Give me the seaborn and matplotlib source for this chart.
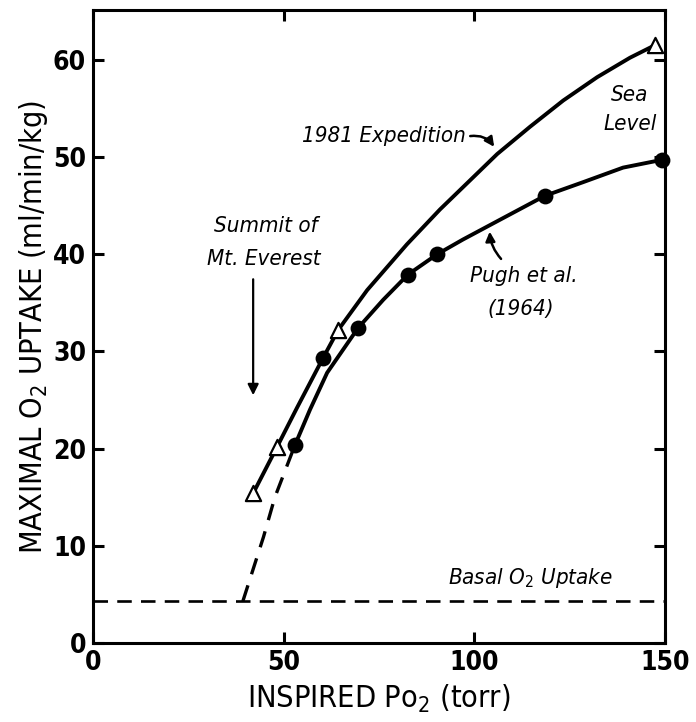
import matplotlib
matplotlib.use("Agg")
import matplotlib.pyplot as plt
import seaborn as sns
from matplotlib import font_manager as fm

sns.set_theme(style="ticks")
installed = {f.name for f in fm.fontManager.ttflist}
FAMILY = next((n for n in ["Liberation Sans Narrow", "DejaVu Sans"] if n in installed), "DejaVu Sans")
plt.rcParams["font.family"] = [FAMILY, "DejaVu Sans"]
plt.rcParams.update({
    "font.stretch": "condensed",
    "text.color": "black",
    "axes.labelcolor": "black",
    "xtick.color": "black",
    "ytick.color": "black",
    "mathtext.fontset": "custom",
    "mathtext.rm": FAMILY,
    "mathtext.it": FAMILY + ":italic",
    "mathtext.bf": FAMILY + ":bold",
})

# Measured points
expedition_po2 = [42.0, 48.3, 64.3, 147.4]
expedition_vo2 = [15.4, 20.2, 32.2, 61.5]
pugh_po2 = [53.0, 60.3, 69.5, 82.6, 90.3, 118.5, 149.2]
pugh_vo2 = [20.4, 29.3, 32.4, 37.9, 40.0, 46.0, 49.7]

# Hand-fitted curves through the data
expedition_curve_po2 = [42.0, 48.3, 53.5, 60.3, 64.3, 71.9, 82.3, 91.0, 98.9, 106.0,
                        114.6, 123.3, 132.2, 140.8, 147.4]
expedition_curve_vo2 = [15.4, 20.2, 24.2, 29.3, 32.2, 36.3, 41.0, 44.6, 47.6, 50.3,
                        53.1, 55.8, 58.2, 60.2, 61.5]
pugh_curve_po2 = [53.0, 56.9, 61.4, 69.5, 76.1, 82.6, 90.3, 97.0, 107.5, 118.5,
                  128.5, 139.0, 149.2]
pugh_curve_vo2 = [20.4, 24.0, 27.8, 32.4, 35.3, 37.9, 40.0, 41.5, 43.7, 46.0,
                  47.4, 48.9, 49.7]
extrap_po2 = [39.3, 44.7, 47.7, 53.0]
extrap_vo2 = [4.3, 10.9, 15.0, 20.4]
basal_po2 = [0, 150]
basal_vo2 = [4.3, 4.3]

x_ticks = [0, 50, 100, 150]
y_ticks = [0, 10, 20, 30, 40, 50, 60]

fig = plt.figure(figsize=(6.96, 7.22), dpi=100)
ax = fig.add_axes([0.1336, 0.1094, 0.8219, 0.8766])

LW = 2.8
line_kw = dict(sort=False, estimator=None, color="black", ax=ax)
sns.lineplot(x=expedition_curve_po2, y=expedition_curve_vo2, lw=LW, **line_kw)
sns.lineplot(x=pugh_curve_po2, y=pugh_curve_vo2, lw=LW, **line_kw)
sns.lineplot(x=extrap_po2, y=extrap_vo2, lw=2.4, **line_kw)
ax.lines[-1].set_dashes([5, 3.5])
sns.lineplot(x=basal_po2, y=basal_vo2, lw=1.9, **line_kw)
ax.lines[-1].set_dashes([5.5, 3.5])
for ln in ax.lines[:2]:
    ln.set_solid_joinstyle("round")
    ln.set_solid_capstyle("round")

sns.scatterplot(x=pugh_po2, y=pugh_vo2, marker="o", s=130, color="black",
                edgecolor="black", linewidth=0, ax=ax, zorder=5, clip_on=False)
sns.scatterplot(x=expedition_po2, y=expedition_vo2, marker="^", s=120, color="white",
                edgecolor="black", linewidth=1.6, ax=ax, zorder=5, clip_on=False)

ax.set_xlim(0, 150)
ax.set_ylim(0, 65.1)
ax.set_xticks(x_ticks)
ax.set_yticks(y_ticks)
ax.tick_params(direction="in", length=8, width=2.2, top=True, right=True,
               labelsize=19, pad=5)
for lab in ax.get_xticklabels() + ax.get_yticklabels():
    lab.set_fontweight("bold")
for s in ax.spines.values():
    s.set_linewidth(2.2)
    s.set_color("black")

ax.set_xlabel("INSPIRED Po$_2$ (torr)", fontsize=22, labelpad=5)
ax.set_ylabel("MAXIMAL O$_2$ UPTAKE (ml/min/kg)", fontsize=22, labelpad=2)

it = dict(fontsize=16, style="italic", ha="center", va="center", color="black")
ax.text(76.3, 52.2, "1981 Expedition", **it)
ax.text(45.4, 42.9, "Summit of", **it)
ax.text(44.8, 39.5, "Mt. Everest", **it)
ax.text(113.0, 37.8, "Pugh et al.", **it)
ax.text(112.2, 34.4, "(1964)", **it)
ax.text(140.8, 56.4, "Sea", **it)
ax.text(140.8, 53.4, "Level", **it)
ax.text(114.6, 6.7, "Basal O$_\\mathit{2}$ Uptake", **it)

ax.annotate("", xy=(105.6, 50.8), xytext=(98.2, 52.1),
            arrowprops=dict(arrowstyle="-|>", color="black", lw=1.8,
                            connectionstyle="arc3,rad=-0.35", mutation_scale=14))
ax.annotate("", xy=(104.0, 42.6), xytext=(107.5, 39.3),
            arrowprops=dict(arrowstyle="-|>", color="black", lw=1.8,
                            connectionstyle="arc3,rad=-0.2", mutation_scale=14))
ax.annotate("", xy=(42.0, 25.2), xytext=(42.0, 37.7),
            arrowprops=dict(arrowstyle="-|>", color="black", lw=1.6, mutation_scale=16))

fig.savefig("out.png", dpi=100)
